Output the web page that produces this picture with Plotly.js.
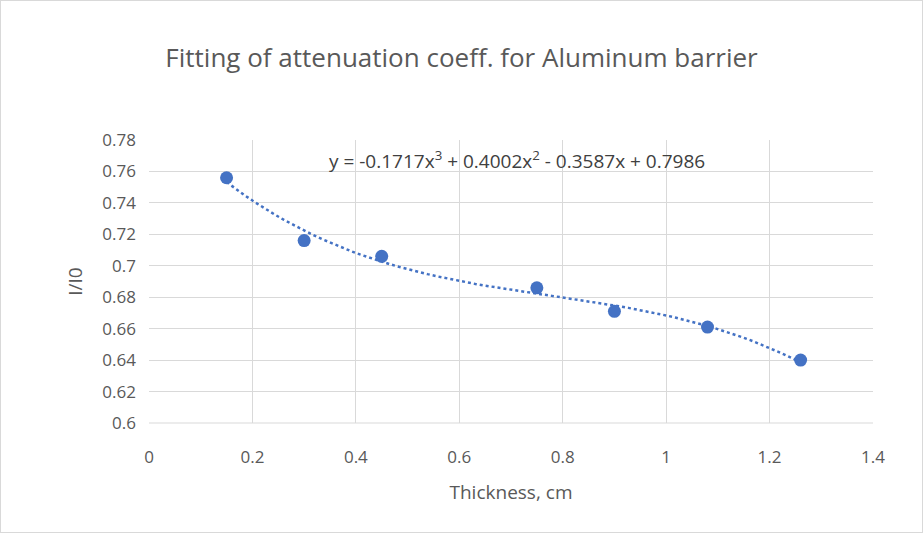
<!DOCTYPE html>
<html>
<head>
<meta charset="utf-8">
<script src="https://cdn.plot.ly/plotly-3.0.1.min.js"></script>
<style>
  body { margin: 0; }
  #chart { width: 923px; height: 533px; box-sizing: border-box; border: 1px solid #d9d9d9; }
</style>
</head>
<body>
<div id="chart"></div>
<script>
// measured points
const thickness = [0.15, 0.3, 0.45, 0.75, 0.9, 1.08, 1.26];
const ratio = [0.756, 0.716, 0.706, 0.686, 0.671, 0.661, 0.640];

// cubic trendline coefficients as printed on the chart (x^3, x^2, x, 1)
const coeffs = [-0.1717, 0.4002, -0.3587, 0.7986];

const fitX = [];
const fitY = [];
for (let i = 0; i <= 60; i++) {
    const x = 0.15 + (1.26 - 0.15) * i / 60;
    fitX.push(x);
    fitY.push(((coeffs[0] * x + coeffs[1]) * x + coeffs[2]) * x + coeffs[3]);
}

const font = "Open Sans, Liberation Sans, sans-serif";

Plotly.newPlot("chart", [{
    x: fitX,
    y: fitY,
    mode: "lines",
    type: "scatter",
    line: { color: "#4472C4", width: 2.5, dash: "dot" },
    hoverinfo: "skip"
},
{
    x: thickness,
    y: ratio,
    mode: "markers",
    type: "scatter",
    marker: { color: "#4472C4", size: 13 }
}], {
    width: 921,
    height: 531,
    showlegend: false,
    margin: { l: 148, r: 49, t: 139, b: 109 },
    paper_bgcolor: "white",
    plot_bgcolor: "white",
    font: { family: font, color: "#595959", size: 17 },
    title: {
        text: "Fitting of attenuation coeff. for Aluminum barrier",
        font: { size: 26, color: "#595959" },
        x: 0.5, y: 0.91
    },
    xaxis: {
        range: [0, 1.4],
        dtick: 0.2,
        showgrid: true,
        gridcolor: "#d9d9d9",
        zeroline: false,
        showline: false,
        ticks: "",
        ticklabelstandoff: 22,
        title: { text: "Thickness, cm", font: { size: 19 }, standoff: 18 }
    },
    yaxis: {
        range: [0.6, 0.78],
        dtick: 0.02,
        showgrid: true,
        gridcolor: "#d9d9d9",
        zeroline: false,
        showline: false,
        ticks: "",
        ticklabelstandoff: 12,
        title: { text: "I/I0", font: { size: 19 }, standoff: 14 }
    },
    shapes: [{
        type: "line", xref: "paper", yref: "paper",
        x0: 0, x1: 1, y0: 0, y1: 0,
        line: { color: "#d9d9d9", width: 1 }
    }],
    annotations: [{
        x: 0.345, y: 0.7675, xref: "x", yref: "y",
        xanchor: "left", showarrow: false,
        text: "y = -0.1717x<sup>3</sup> + 0.4002x<sup>2</sup> - 0.3587x + 0.7986",
        font: { size: 19, color: "#404040" }
    }]
}, { displayModeBar: false });
</script>
</body>
</html>
